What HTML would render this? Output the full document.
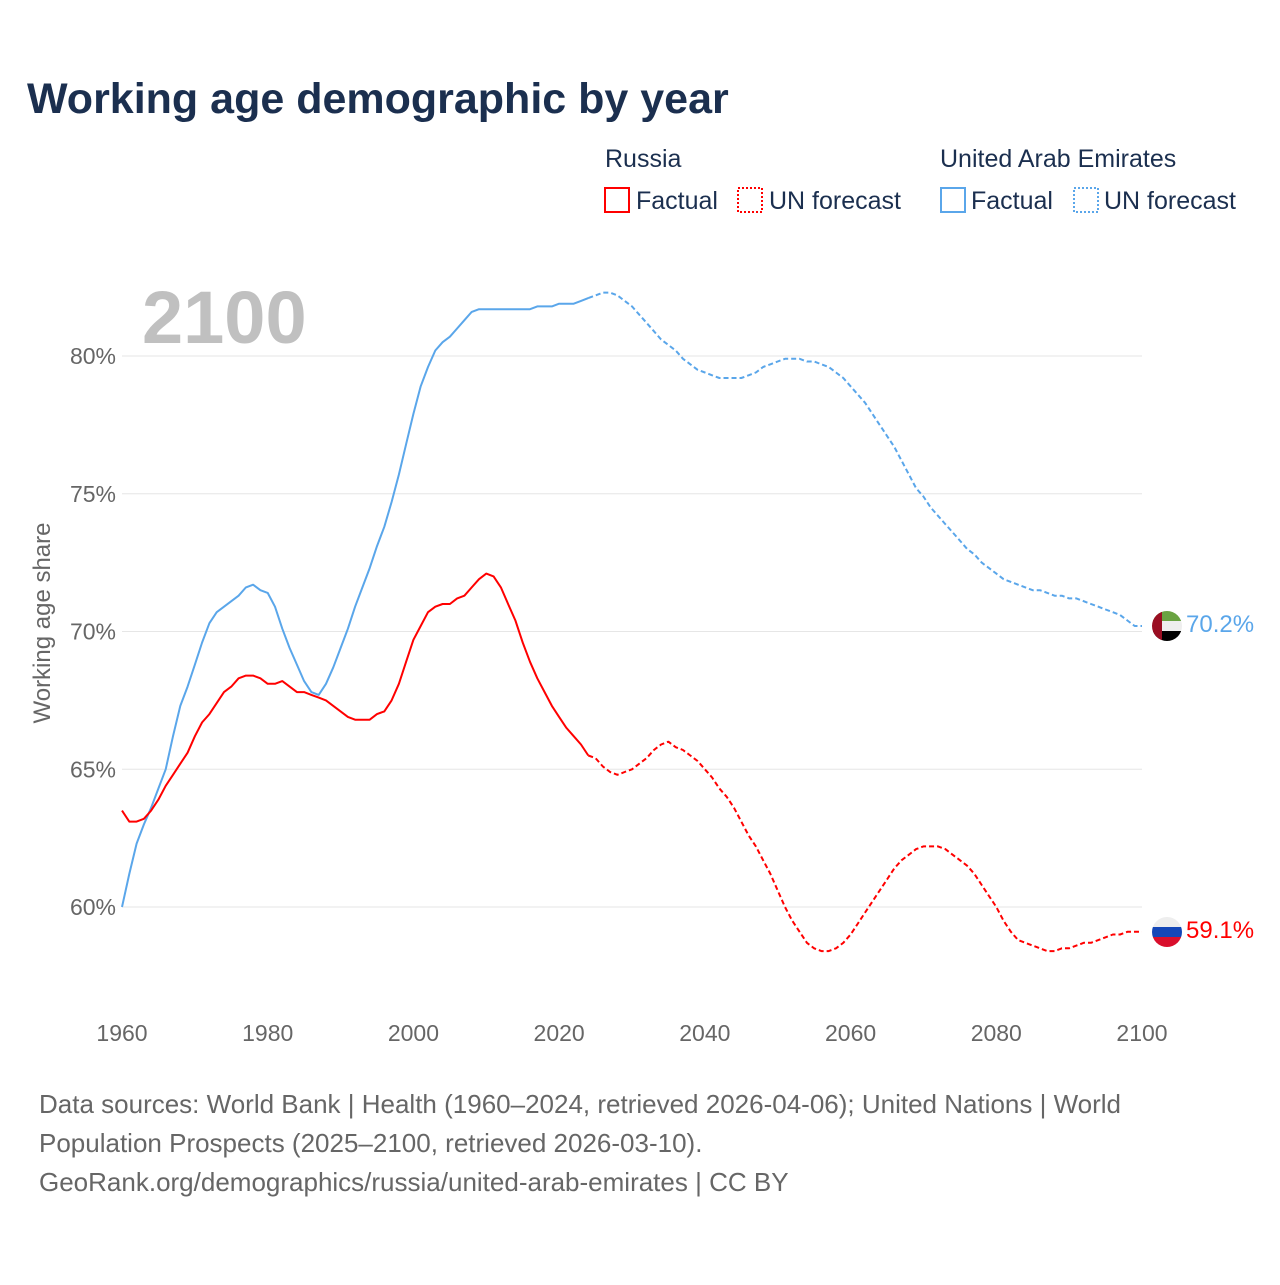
<!DOCTYPE html>
<html><head><meta charset="utf-8"><style>
body{margin:0;background:#fff;width:1280px;height:1280px;overflow:hidden;font-family:"Liberation Sans",sans-serif}
</style></head><body>
<svg width="1280" height="1280" style="font-family:'Liberation Sans',sans-serif">
<text x="27" y="113" font-size="43" font-weight="bold" fill="#1b2f4f">Working age demographic by year</text>
<g font-size="25" fill="#1b2f4f">
<text x="605" y="167">Russia</text>
<rect x="605" y="188" width="24" height="24" fill="none" stroke="#f00" stroke-width="2"/>
<text x="636" y="209">Factual</text>
<rect x="738" y="188" width="24" height="24" fill="none" stroke="#f00" stroke-width="2" stroke-dasharray="2,2"/>
<text x="769" y="209">UN forecast</text>
<text x="940" y="167">United Arab Emirates</text>
<rect x="941" y="188" width="24" height="24" fill="none" stroke="#5aa6ea" stroke-width="2"/>
<text x="971" y="209">Factual</text>
<rect x="1074" y="188" width="24" height="24" fill="none" stroke="#5aa6ea" stroke-width="2" stroke-dasharray="2,2"/>
<text x="1104" y="209">UN forecast</text>
</g>
<text x="142" y="343" font-size="74" font-weight="bold" fill="#c0c0c0">2100</text>
<g id="grid"></g><g id="xt"></g><g id="lines"></g>
<text transform="translate(50,623) rotate(-90)" text-anchor="middle" font-size="24" fill="#666">Working age share</text>
<g>
<clipPath id="c1"><circle cx="1167" cy="626" r="15"/></clipPath>
<g clip-path="url(#c1)"><rect x="1152" y="611" width="30" height="10" fill="#6aa342"/><rect x="1152" y="621" width="30" height="10" fill="#eee"/><rect x="1152" y="631" width="30" height="10" fill="#000"/><rect x="1152" y="611" width="10" height="30" fill="#9a0e22"/></g></g>
<g>
<clipPath id="c2"><circle cx="1167" cy="932" r="15"/></clipPath>
<g clip-path="url(#c2)"><rect x="1152" y="917" width="30" height="10" fill="#eee"/><rect x="1152" y="927" width="30" height="10" fill="#1447b8"/><rect x="1152" y="937" width="30" height="10" fill="#d90f2c"/></g></g>
<text x="1186" y="632" font-size="24" fill="#5aa6ea">70.2%</text>
<text x="1186" y="938" font-size="24" fill="#f00">59.1%</text>
<g font-size="26" fill="#666">
<text x="39" y="1113">Data sources: World Bank | Health (1960–2024, retrieved 2026-04-06); United Nations | World</text>
<text x="39" y="1152">Population Prospects (2025–2100, retrieved 2026-03-10).</text>
<text x="39" y="1191">GeoRank.org/demographics/russia/united-arab-emirates | CC BY</text>
</g>
</svg>
<script>
const yTicks=[60,65,70,75,80];
const xTicks=[1960,1980,2000,2020,2040,2060,2080,2100];
const startYear=1960, lastFactual=2024;
const uae=[60.0,61.2,62.3,63.0,63.6,64.3,65.0,66.2,67.3,68.0,68.8,69.6,70.3,70.7,70.9,71.1,71.3,71.6,71.7,71.5,71.4,70.9,70.1,69.4,68.8,68.2,67.8,67.7,68.1,68.7,69.4,70.1,70.9,71.6,72.3,73.1,73.8,74.7,75.7,76.8,77.9,78.9,79.6,80.2,80.5,80.7,81.0,81.3,81.6,81.7,81.7,81.7,81.7,81.7,81.7,81.7,81.7,81.8,81.8,81.8,81.9,81.9,81.9,82.0,82.1,
82.2,82.3,82.3,82.2,82.0,81.8,81.5,81.2,80.9,80.6,80.4,80.2,79.9,79.7,79.5,79.4,79.3,79.2,79.2,79.2,79.2,79.3,79.4,79.6,79.7,79.8,79.9,79.9,79.9,79.8,79.8,79.7,79.6,79.4,79.2,78.9,78.6,78.3,77.9,77.5,77.1,76.7,76.2,75.7,75.2,74.9,74.5,74.2,73.9,73.6,73.3,73.0,72.8,72.5,72.3,72.1,71.9,71.8,71.7,71.6,71.5,71.5,71.4,71.3,71.3,71.2,71.2,71.1,71.0,70.9,70.8,70.7,70.6,70.4,70.2,70.2];
const russia=[63.5,63.1,63.1,63.2,63.5,63.9,64.4,64.8,65.2,65.6,66.2,66.7,67.0,67.4,67.8,68.0,68.3,68.4,68.4,68.3,68.1,68.1,68.2,68.0,67.8,67.8,67.7,67.6,67.5,67.3,67.1,66.9,66.8,66.8,66.8,67.0,67.1,67.5,68.1,68.9,69.7,70.2,70.7,70.9,71.0,71.0,71.2,71.3,71.6,71.9,72.1,72.0,71.6,71.0,70.4,69.6,68.9,68.3,67.8,67.3,66.9,66.5,66.2,65.9,65.5,
65.4,65.1,64.9,64.8,64.9,65.0,65.2,65.4,65.7,65.9,66.0,65.8,65.7,65.5,65.3,65.0,64.7,64.3,64.0,63.6,63.1,62.6,62.2,61.7,61.2,60.6,60.0,59.5,59.1,58.7,58.5,58.4,58.4,58.5,58.7,59.0,59.4,59.8,60.2,60.6,61.0,61.4,61.7,61.9,62.1,62.2,62.2,62.2,62.1,61.9,61.7,61.5,61.2,60.8,60.4,60.0,59.5,59.1,58.8,58.7,58.6,58.5,58.4,58.4,58.5,58.5,58.6,58.7,58.7,58.8,58.9,59.0,59.0,59.1,59.1,59.1];
const NS='http://www.w3.org/2000/svg';
const X=y=>122+(y-1960)*(1142-122)/140;
const Y=v=>907-(v-60)*(907-356)/20;
function mk(t,a,p){const e=document.createElementNS(NS,t);for(const k in a)e.setAttribute(k,a[k]);p.appendChild(e);return e;}
const grid=document.getElementById('grid');
yTicks.forEach(v=>{
 const l=mk('line',{x1:122,x2:1142,y1:Y(v),y2:Y(v),stroke:'#e6e6e6','stroke-width':1},grid);
 
 
 const t=mk('text',{x:116,y:Y(v)+8,'text-anchor':'end','font-size':23,fill:'#666'},grid);
 t.textContent=v+'%';
 
 
});
const xt=document.getElementById('xt');
xTicks.forEach(v=>{
 const t=mk('text',{x:X(v),y:1041,'text-anchor':'middle','font-size':23,fill:'#666'},xt);
 t.textContent=v;
 
 
});
const lines=document.getElementById('lines');
function path(arr,from,to,color,dash,name){
 let d='';for(let i=from;i<=to;i++)d+=(i===from?'M':'L')+X(startYear+i).toFixed(1)+','+Y(arr[i]).toFixed(1);
 const a={d:d,fill:'none',stroke:color,'stroke-width':2,'stroke-linejoin':'round'};
 if(dash)a['stroke-dasharray']='5,3';
 const p=mk('path',a,lines);
 
 
}
const fi=lastFactual-startYear;
path(uae,0,fi,'#5aa6ea',false,'uae-factual-line');
path(uae,fi,uae.length-1,'#5aa6ea',true,'uae-forecast-line');
path(russia,0,fi,'#f00',false,'russia-factual-line');
path(russia,fi,russia.length-1,'#f00',true,'russia-forecast-line');
</script>
</body></html>
